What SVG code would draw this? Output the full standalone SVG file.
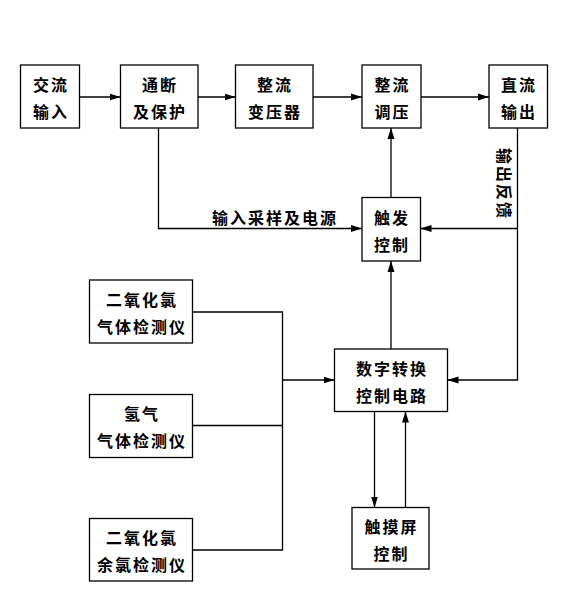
<svg xmlns="http://www.w3.org/2000/svg" width="580" height="605" viewBox="0 0 580 605">
<style>
.box{fill:#fff;stroke:#000;stroke-width:1.3}
.ln{fill:none;stroke:#000;stroke-width:1.3}
text{font-family:"Noto Sans CJK SC","Noto Sans",sans-serif;font-size:16px;font-weight:700;letter-spacing:2px;text-anchor:middle;fill:#000}
</style>
<defs>
<marker id="ah" markerUnits="userSpaceOnUse" markerWidth="11" markerHeight="8" refX="11" refY="4" orient="auto">
<path d="M0,0.5 L11,4 L0,7.5 z" fill="#000"/>
</marker>
</defs>
<rect x="0" y="0" width="580" height="605" fill="#fff"/>
<g id="connectors">
<line class="ln" x1="79.5" y1="97" x2="120.5" y2="97" marker-end="url(#ah)"/>
<line class="ln" x1="198" y1="97" x2="235.5" y2="97" marker-end="url(#ah)"/>
<line class="ln" x1="313" y1="97" x2="362" y2="97" marker-end="url(#ah)"/>
<line class="ln" x1="421" y1="97" x2="489" y2="97" marker-end="url(#ah)"/>
<polyline class="ln" points="158.5,128 158.5,228.5 362,228.5" marker-end="url(#ah)"/>
<polyline class="ln" points="517.5,128 517.5,380 447.5,380" marker-end="url(#ah)"/>
<line class="ln" x1="517.5" y1="228.5" x2="420.5" y2="228.5" marker-end="url(#ah)"/>
<line class="ln" x1="391" y1="197" x2="391" y2="128" marker-end="url(#ah)"/>
<line class="ln" x1="391" y1="349" x2="391" y2="261" marker-end="url(#ah)"/>
<polyline class="ln" points="192.5,312 282.5,312 282.5,550 192.5,550"/>
<line class="ln" x1="192.5" y1="425.5" x2="282.5" y2="425.5"/>
<line class="ln" x1="282.5" y1="380" x2="334.5" y2="380" marker-end="url(#ah)"/>
<line class="ln" x1="374.5" y1="411.5" x2="374.5" y2="507.5" marker-end="url(#ah)"/>
<line class="ln" x1="405.5" y1="507.5" x2="405.5" y2="411.5" marker-end="url(#ah)"/>
<text x="275" y="224">输入采样及电源</text>
<text transform="translate(504,183) rotate(90)" x="1" y="6">输出反馈</text>
</g>
<g id="ac_input"><rect class="box" x="20.5" y="65" width="59" height="63"/><text x="51" y="91">交流</text><text x="51" y="118">输入</text></g>
<g id="switch_protect"><rect class="box" x="120.5" y="65" width="77.5" height="63"/><text x="160" y="91">通断</text><text x="160" y="118">及保护</text></g>
<g id="rect_transformer"><rect class="box" x="235.5" y="65" width="77.5" height="63"/><text x="275" y="91">整流</text><text x="275" y="118">变压器</text></g>
<g id="rect_regulator"><rect class="box" x="362" y="65" width="59" height="63"/><text x="392.5" y="91">整流</text><text x="392.5" y="118">调压</text></g>
<g id="dc_output"><rect class="box" x="489" y="65" width="58.5" height="63"/><text x="519" y="91">直流</text><text x="519" y="118">输出</text></g>
<g id="trigger_ctrl"><rect class="box" x="362" y="197.5" width="58.5" height="63.5"/><text x="392" y="224">触发</text><text x="392" y="251">控制</text></g>
<g id="digital_ctrl"><rect class="box" x="334.5" y="349" width="113" height="62.5"/><text x="392" y="375">数字转换</text><text x="392" y="402">控制电路</text></g>
<g id="clo2_gas"><rect class="box" x="89.5" y="280" width="103" height="63"/><text x="142" y="306">二氧化氯</text><text x="142" y="333">气体检测仪</text></g>
<g id="h2_gas"><rect class="box" x="89.5" y="394.5" width="103" height="63"/><text x="142" y="420">氢气</text><text x="142" y="447">气体检测仪</text></g>
<g id="clo2_residual"><rect class="box" x="89.5" y="518.5" width="103" height="62.5"/><text x="142" y="544">二氧化氯</text><text x="142" y="571">余氯检测仪</text></g>
<g id="touch_screen"><rect class="box" x="352" y="507.5" width="77" height="61.5"/><text x="391.5" y="533">触摸屏</text><text x="391.5" y="560">控制</text></g>
</svg>
